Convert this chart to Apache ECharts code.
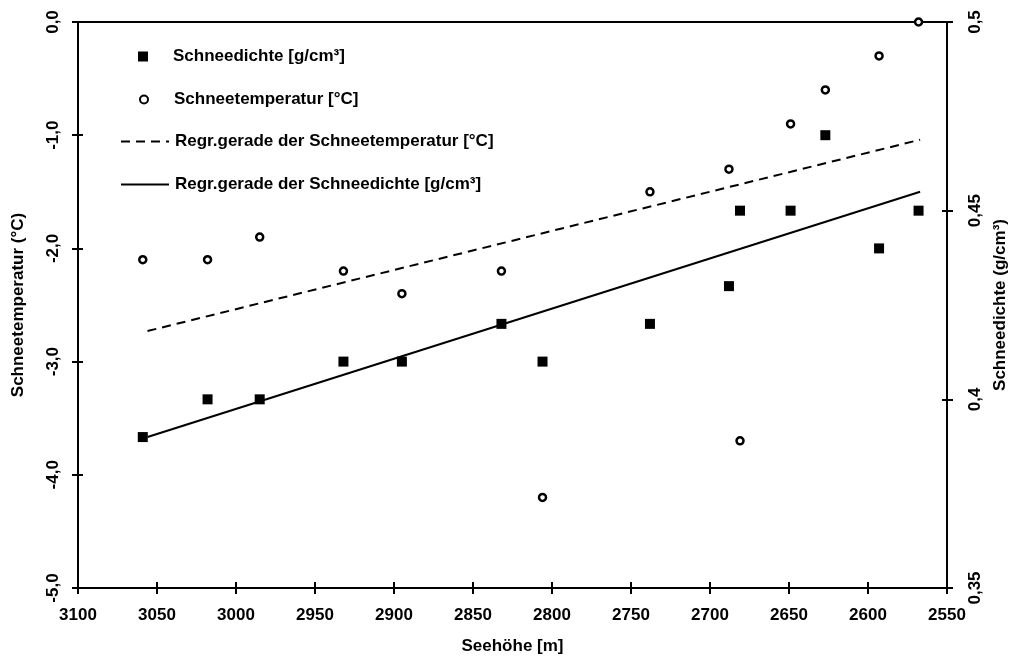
<!DOCTYPE html>
<html>
<head>
<meta charset="utf-8">
<script src="https://cdn.jsdelivr.net/npm/echarts@6/dist/echarts.min.js"></script>
<style>
  html, body { margin: 0; padding: 0; background: #fff; }
  #chart { width: 1017px; height: 661px; }
</style>
</head>
<body>
<div id="chart"></div>
<script>
// Messpunkte: Seehöhe [m], Schneedichte [g/cm³], Schneetemperatur [°C]
const altitude    = [3059, 3018, 2985, 2932, 2895, 2832, 2806, 2738, 2688, 2681, 2649, 2627, 2593, 2568];
const density     = [0.39, 0.40, 0.40, 0.41, 0.41, 0.42, 0.41, 0.42, 0.43, 0.45, 0.45, 0.47, 0.44, 0.45];
const temperature = [-2.1, -2.1, -1.9, -2.2, -2.4, -2.2, -4.2, -1.5, -1.3, -3.7, -0.9, -0.6, -0.3, 0.0];

// Endpunkte der Regressionsgeraden
const regrAltitude    = [3056, 2567];
const regrTemperature = [-2.73, -1.04];
const regrDensity     = [0.39, 0.455];

// Achsbeschriftungen (Dezimalkomma)
const tempTickLabels    = ['-5,0', '-4,0', '-3,0', '-2,0', '-1,0', '0,0'];
const densityTickLabels = ['0,35', '0,4', '0,45', '0,5'];

const seriesNames = [
  'Schneedichte [g/cm³]',
  'Schneetemperatur [°C]',
  'Regr.gerade der Schneetemperatur [°C]',
  'Regr.gerade der Schneedichte [g/cm³]'
];

const FONT = "'Liberation Sans', Arial, Helvetica, sans-serif";
const textStyle = { fontFamily: FONT, fontWeight: 'bold', fontSize: 17, color: '#000' };

const pairs = (xs, ys) => xs.map((x, i) => [x, ys[i]]);

const xBase = { type: 'value', inverse: true, min: 2550, max: 3100, interval: 50 };
const tempBase = { type: 'value', min: -5, max: 0, interval: 1 };
const densBase = { type: 'value', min: 0.35, max: 0.5, interval: 0.05 };

const GRID = { left: 78, right: 69, top: 22, bottom: 73 };
const PLOT_W = 1017 - GRID.left - GRID.right;
const PLOT_H = 661 - GRID.top - GRID.bottom;

const lineAxis = { show: true, onZero: false, lineStyle: { color: '#000', width: 2 } };
const tickStyle = { color: '#000', width: 2 };
const tickOut = { show: true, inside: false, length: 6, lineStyle: tickStyle };

// Zweite, unsichtbare Achsen auf der Gegenseite, per offset auf die Hauptachse
// geschoben: ihre "äußeren" Striche zeigen dann ins Diagramm (Kreuzstriche).
const mirrorParts = {
  axisLine: { show: false, onZero: false },
  axisLabel: { show: false },
  splitLine: { show: false },
  axisTick: { show: true, inside: false, length: 6, lineStyle: tickStyle }
};

const SQUARE_ICON = 'path://M0,0L10,0L10,10L0,10Z';
const CIRCLE_ICON = 'path://M5,0A5,5,0,1,1,5,10A5,5,0,1,1,5,0Z';

// Symbol-Legenden: kleines Symbol um x=143, Text ab x=173
function symbolLegend(name, centerY, icon, size) {
  return {
    data: [{ name: name, icon: icon }],
    left: 143 - size / 2,
    top: centerY - 7,
    padding: 0,
    itemWidth: size,
    itemHeight: size,
    itemGap: 0,
    selectedMode: false,
    textStyle: Object.assign({}, textStyle, { padding: [0, 0, 0, 25 - size / 2] })
  };
}

// Linien-Legenden: Strich von x=120 bis x=168
function lineLegend(name, centerY) {
  return {
    data: [name],
    left: 120,
    top: centerY - 7,
    padding: 0,
    itemWidth: 48,
    itemHeight: 14,
    itemGap: 0,
    selectedMode: false,
    itemStyle: { color: 'rgba(0,0,0,0)', borderWidth: 0 },
    textStyle: Object.assign({}, textStyle, { padding: [0, 0, 0, 1] })
  };
}

const option = {
  backgroundColor: '#fff',
  animation: false,
  textStyle: textStyle,
  grid: Object.assign({}, GRID, {
    show: true, borderColor: '#000', borderWidth: 2, backgroundColor: 'transparent'
  }),
  legend: [
    symbolLegend(seriesNames[0], 55, SQUARE_ICON, 10),
    symbolLegend(seriesNames[1], 98, CIRCLE_ICON, 8),
    lineLegend(seriesNames[2], 140),
    lineLegend(seriesNames[3], 183)
  ],
  xAxis: [
    Object.assign({}, xBase, {
      position: 'bottom',
      name: 'Seehöhe [m]',
      nameLocation: 'middle',
      nameGap: 50,
      nameTextStyle: Object.assign({}, textStyle),
      axisLine: lineAxis,
      axisTick: tickOut,
      splitLine: { show: false },
      axisLabel: Object.assign({}, textStyle, { margin: 19, formatter: v => String(v) })
    }),
    Object.assign({}, xBase, { position: 'top', offset: -PLOT_H }, mirrorParts)
  ],
  yAxis: [
    Object.assign({}, tempBase, {
      position: 'left',
      name: 'Schneetemperatur (°C)',
      nameLocation: 'middle',
      nameRotate: 90,
      nameGap: 51,
      nameTextStyle: Object.assign({}, textStyle),
      axisLine: lineAxis,
      axisTick: tickOut,
      splitLine: { show: false },
      axisLabel: Object.assign({}, textStyle, {
        rotate: 90,
        margin: 16,
        formatter: v => tempTickLabels[Math.round(v + 5)]
      })
    }),
    Object.assign({}, densBase, {
      position: 'right',
      name: 'Schneedichte (g/cm³)',
      nameLocation: 'middle',
      nameRotate: 90,
      nameGap: 45,
      nameTextStyle: Object.assign({}, textStyle),
      axisLine: lineAxis,
      axisTick: tickOut,
      splitLine: { show: false },
      axisLabel: Object.assign({}, textStyle, {
        rotate: 90,
        margin: 20,
        formatter: v => densityTickLabels[Math.round((v - 0.35) / 0.05)]
      })
    }),
    Object.assign({}, tempBase, { position: 'right', offset: -PLOT_W }, mirrorParts),
    Object.assign({}, densBase, { position: 'left', offset: -PLOT_W }, mirrorParts)
  ],
  series: [
    {
      name: seriesNames[0],
      type: 'scatter',
      xAxisIndex: 0, yAxisIndex: 1,
      symbol: 'rect',
      symbolSize: 10,
      itemStyle: { color: '#000', opacity: 1 },
      data: pairs(altitude, density),
      z: 5
    },
    {
      name: seriesNames[1],
      type: 'scatter',
      xAxisIndex: 0, yAxisIndex: 0,
      symbol: 'circle',
      symbolSize: 7,
      itemStyle: { color: '#fff', borderColor: '#000', borderWidth: 2.5, opacity: 1 },
      data: pairs(altitude, temperature),
      clip: false,
      z: 6
    },
    {
      name: seriesNames[2],
      type: 'line',
      xAxisIndex: 0, yAxisIndex: 0,
      symbol: 'none',
      lineStyle: { color: '#000', width: 2, type: [9, 6] },
      itemStyle: { color: '#000' },
      data: pairs(regrAltitude, regrTemperature),
      z: 4
    },
    {
      name: seriesNames[3],
      type: 'line',
      xAxisIndex: 0, yAxisIndex: 1,
      symbol: 'none',
      lineStyle: { color: '#000', width: 2, type: 'solid' },
      itemStyle: { color: '#000' },
      data: pairs(regrAltitude, regrDensity),
      z: 4
    }
  ]
};

const chart = echarts.init(document.getElementById('chart'), null, { renderer: 'canvas' });
chart.setOption(option);
</script>
</body>
</html>
